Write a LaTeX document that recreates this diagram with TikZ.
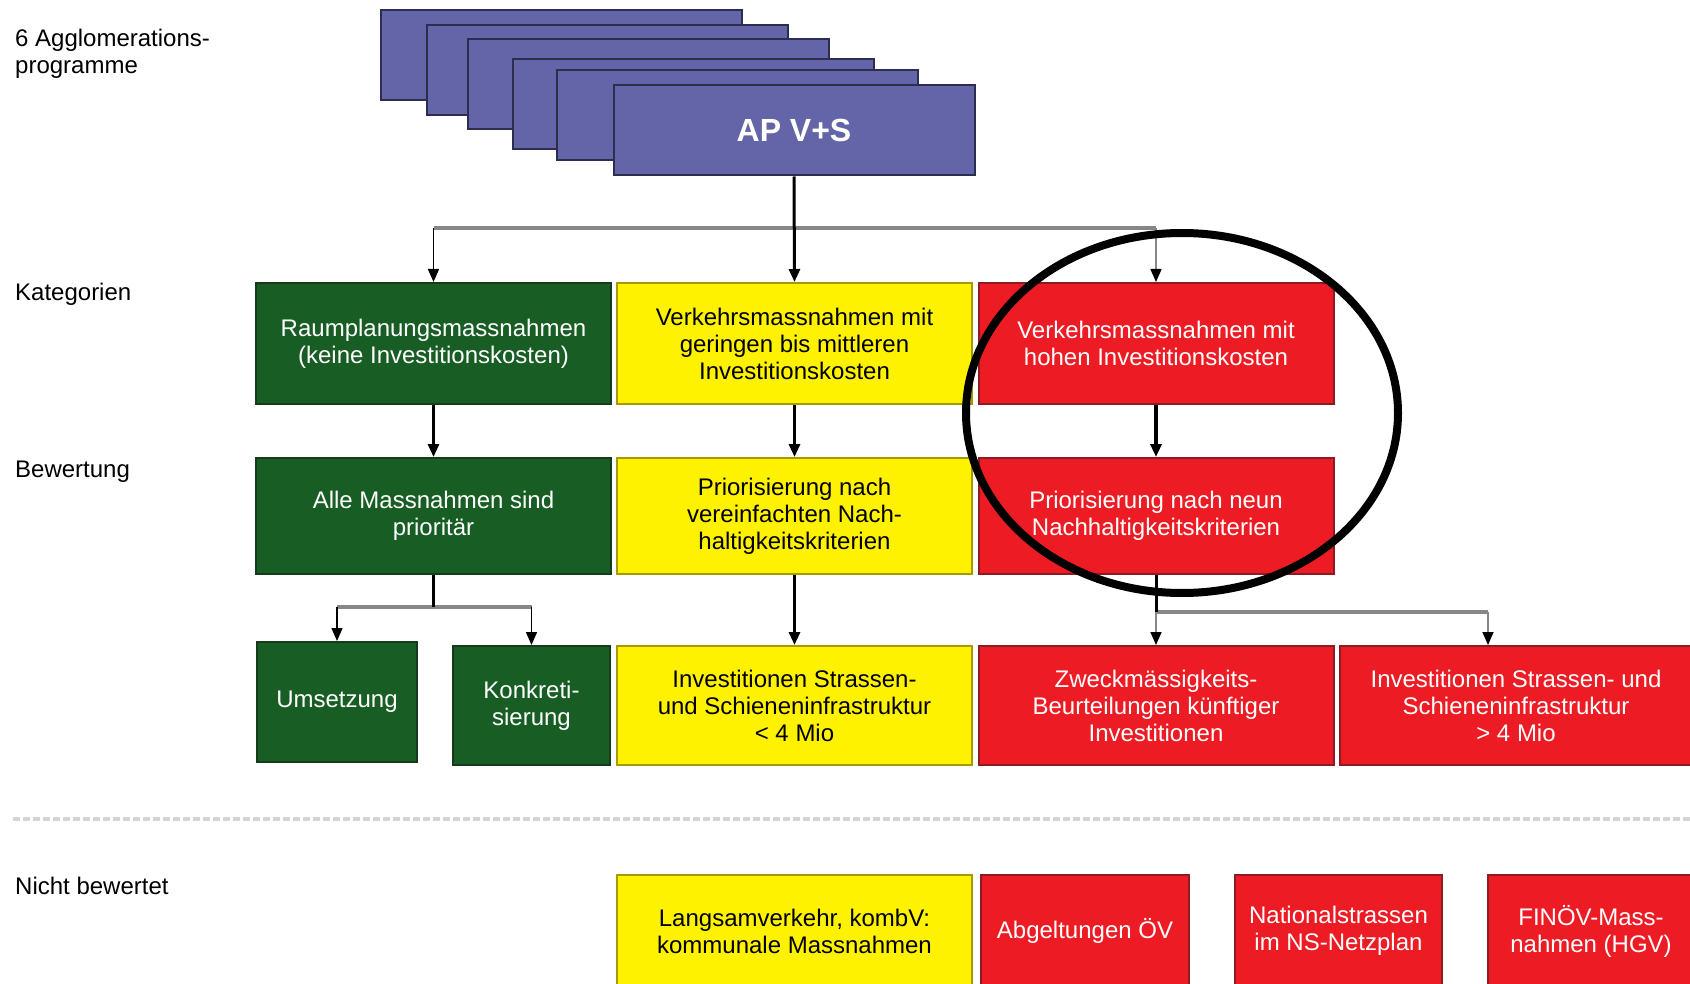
\documentclass[tikz,border=0pt]{standalone}
\usepackage{fontspec}
\setmainfont{Liberation Sans}
\usetikzlibrary{arrows.meta}
\definecolor{apblue}{RGB}{99,101,168}
\definecolor{apedge}{RGB}{45,45,80}
\definecolor{katgreen}{RGB}{24,94,36}
\definecolor{greenedge}{RGB}{22,58,28}
\definecolor{katyellow}{RGB}{255,242,0}
\definecolor{yellowedge}{RGB}{165,155,0}
\definecolor{katred}{RGB}{237,28,36}
\definecolor{rededge}{RGB}{140,28,34}
\definecolor{linkgray}{RGB}{135,135,135}
\definecolor{dashgray}{RGB}{212,212,212}

\begin{document}
\begin{tikzpicture}[x=1pt,y=-1pt,
    font=\fontsize{24}{27}\selectfont,
    box/.style={rectangle,inner sep=2pt,align=center,line width=2pt},
    apbox/.style={box,fill=apblue,draw=apedge,minimum width=361pt,minimum height=90pt,
        text=white,font=\fontsize{32}{36}\selectfont\bfseries},
    greenbox/.style={box,fill=katgreen,draw=greenedge,text=white},
    yellowbox/.style={box,fill=katyellow,draw=yellowedge,text=black},
    redbox/.style={box,fill=katred,draw=rededge,text=white},
    wide/.style={minimum width=355pt},
    rowlabel/.style={anchor=west,inner sep=0pt,align=left},
    link/.style={line width=3pt,-{Triangle[width=11pt,length=13pt]}},
    branch/.style={line width=4pt,linkgray},
    drop/.style={line width=1.5pt,-{Triangle[width=11pt,length=13pt,color=black]}}]
        \path[use as bounding box,clip] (0,0) rectangle (1690,984);
        % row labels
        \node[rowlabel] (lab0) at (15,54) {6 Agglomerations-\\programme};
        \node[rowlabel] (lab1) at (15,294) {Kategorien};
        \node[rowlabel] (lab2) at (15,472) {Bewertung};
        \node[rowlabel] (lab3) at (15,886) {Nicht bewertet};
        % Agglomerationsprogramme
        \node[apbox] (ap1) at (561.5,55.5) {};
        \node[apbox] (ap2) at (607.5,70.5) {};
        \node[apbox] (ap3) at (648,84) {};
        \node[apbox] (ap4) at (693.5,104) {};
        \node[apbox] (ap5) at (737,115) {};
        \node[apbox] (ap) at (794,130.5) {AP V+S};
        % Kategorien
        \node[greenbox,wide,minimum height=121pt] (kat1) at (433.5,343.5) {Raumplanungsmassnahmen\\(keine Investitionskosten)};
        \node[yellowbox,wide,minimum height=121pt] (kat2) at (794.5,343.5) {Verkehrsmassnahmen mit\\geringen bis mittleren\\Investitionskosten};
        \node[redbox,wide,minimum height=121pt] (kat3) at (1156,343.5) {Verkehrsmassnahmen mit\\hohen Investitionskosten};
        % Bewertung
        \node[greenbox,wide,minimum height=116pt] (bew1) at (433.5,516) {Alle Massnahmen sind\\priorit\"ar};
        \node[yellowbox,wide,minimum height=116pt] (bew2) at (794.5,516) {Priorisierung nach\\vereinfachten Nach-\\haltigkeitskriterien};
        \node[redbox,wide,minimum height=116pt] (bew3) at (1156,516) {Priorisierung nach neun\\Nachhaltigkeitskriterien};
        % Massnahmen
        \node[greenbox,minimum width=160pt,minimum height=120pt] (um) at (337,702) {Umsetzung};
        \node[greenbox,minimum width=157pt,minimum height=119pt] (konk) at (531.5,705.5) {Konkreti-\\sierung};
        \node[yellowbox,wide,minimum height=119pt] (inv1) at (794.5,705.5) {Investitionen Strassen-\\und Schieneninfrastruktur\\< 4 Mio};
        \node[redbox,wide,minimum height=119pt] (zweck) at (1156,705.5) {Zweckm\"assigkeits-\\Beurteilungen k\"unftiger\\Investitionen};
        \node[redbox,minimum width=352pt,minimum height=119pt] (inv2) at (1516,705.5) {Investitionen Strassen- und\\Schieneninfrastruktur\\> 4 Mio};
        % nicht bewertet
        \node[yellowbox,wide,minimum height=112pt] (nb1) at (794.5,931) {Langsamverkehr, kombV:\\kommunale Massnahmen};
        \node[redbox,minimum width=208pt,minimum height=112pt] (nb2) at (1085,931) {Abgeltungen \"OV};
        \node[redbox,minimum width=207pt,minimum height=112pt] (nb3) at (1338.5,931) {Nationalstrassen\\im NS-Netzplan};
        \node[redbox,minimum width=206pt,minimum height=112pt] (nb4) at (1591,931) {FIN\"OV-Mass-\\nahmen (HGV)};
        % connectors
        \coordinate (fork) at (794,228);
        \draw[branch] (kat1.north |- fork) -- (kat3.north |- fork);
        \draw[drop] (kat1.north |- fork) -- (kat1.north);
        \draw[drop,linkgray] (kat3.north |- fork) -- (kat3.north);
        \draw[link] (ap.south) -- (kat2.north);
        \draw[link] (kat1.south) -- (bew1.north);
        \draw[link] (kat2.south) -- (bew2.north);
        \draw[link,line width=4.5pt] (kat3.south) -- (bew3.north);
        \coordinate (gfork) at (433.5,607);
        \draw[branch] (um.north |- gfork) -- (konk.north |- gfork);
        \draw[line width=3pt] (bew1.south) -- (gfork);
        \draw[drop] (um.north |- gfork) -- (um.north);
        \draw[drop] (konk.north |- gfork) -- (konk.north);
        \draw[link] (bew2.south) -- (inv1.north);
        \coordinate (rfork) at (1156,612);
        \coordinate (rdrop) at (1488,612);
        \draw[branch] (zweck.north |- rfork) -- (rdrop);
        \draw[line width=3pt] (bew3.south) -- (rfork);
        \draw[drop,linkgray] (zweck.north |- rfork) -- (zweck.north);
        \draw[drop,linkgray] (rdrop) -- (rdrop |- inv2.north);
        % separator
        \draw[dashgray,line width=4pt,dash pattern=on 7pt off 3pt] (13,819) -- (1690,819);
        % highlight
        \draw[line width=8pt] (1182,413) ellipse [x radius=216, y radius=180];
    \end{tikzpicture}
\end{document}
